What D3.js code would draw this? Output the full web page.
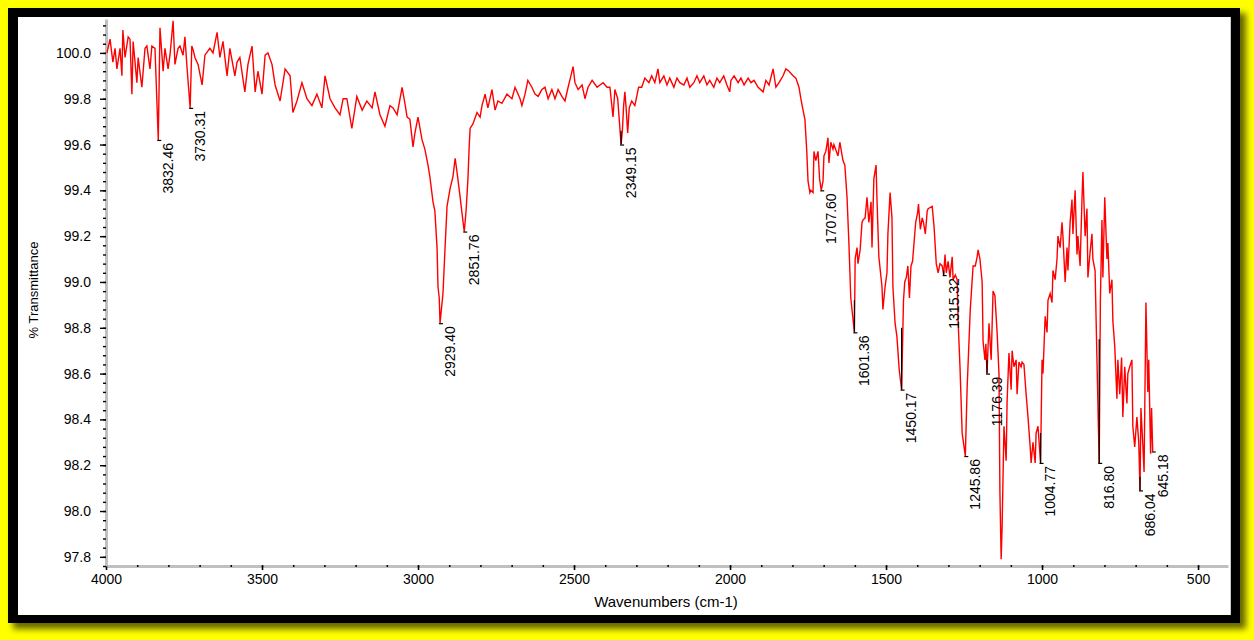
<!DOCTYPE html>
<html>
<head>
<meta charset="utf-8">
<script src="https://cdn.jsdelivr.net/npm/d3@7"></script>
<style>
  html, body { margin: 0; padding: 0; background: #ffff00; }
  svg { display: block; font-family: "Liberation Sans", Arial, sans-serif; }
</style>
</head>
<body>
<svg id="chart" width="1254" height="640"></svg>
<script>
// spectrum (cm-1, %T)
var wavenumbers = [
  3997, 3987, 3978, 3971, 3965, 3955, 3949, 3946, 3939, 3929, 3923, 3917, 3913, 3901, 3897, 3885,
  3875, 3869, 3859, 3853, 3843, 3832.46, 3827, 3817, 3811, 3801, 3795, 3785, 3779, 3769, 3763, 3753,
  3747, 3740, 3730.31, 3725, 3720, 3715, 3705, 3692, 3683, 3667, 3657, 3644, 3635, 3625, 3612, 3603,
  3587, 3580, 3571, 3555, 3545, 3532, 3522, 3513, 3500, 3490, 3481, 3468, 3458, 3442, 3426, 3410,
  3401, 3388, 3372, 3356, 3340, 3324, 3308, 3298, 3282, 3266, 3250, 3240, 3228, 3212, 3196, 3179,
  3164, 3147, 3138, 3122, 3106, 3090, 3080, 3067, 3051, 3042, 3035, 3026, 3016, 3010, 3000, 2987,
  2978, 2968, 2962, 2952, 2946, 2939, 2936, 2932, 2929.40, 2920, 2914, 2907, 2897, 2888, 2881, 2875,
  2865, 2859, 2851.76, 2846, 2840, 2836, 2833, 2824, 2811, 2801, 2795, 2785, 2776, 2763, 2753, 2744,
  2731, 2715, 2699, 2689, 2673, 2667, 2657, 2648, 2635, 2625, 2615, 2603, 2593, 2583, 2571, 2561,
  2551, 2539, 2529, 2519, 2510, 2503, 2497, 2487, 2474, 2465, 2455, 2442, 2426, 2417, 2407, 2394,
  2385, 2375, 2369, 2360, 2349.15, 2345, 2341, 2337, 2333, 2328, 2323, 2315, 2305, 2293, 2283, 2273,
  2260, 2251, 2241, 2231, 2225, 2212, 2202, 2193, 2180, 2170, 2161, 2148, 2138, 2129, 2116, 2106,
  2097, 2084, 2074, 2065, 2052, 2042, 2033, 2020, 2010, 2001, 1997, 1987, 1974, 1965, 1955, 1942,
  1933, 1923, 1910, 1894, 1885, 1875, 1862, 1853, 1843, 1830, 1821, 1811, 1798, 1789, 1779, 1773,
  1766, 1760, 1754, 1750, 1744, 1741, 1734, 1731, 1725, 1718, 1713, 1707.60, 1702, 1699, 1693, 1686,
  1683, 1677, 1670, 1667, 1654, 1648, 1638, 1632, 1625, 1619, 1613, 1606, 1601.36, 1599, 1593, 1590,
  1583, 1577, 1574, 1567, 1561, 1555, 1548, 1545, 1539, 1532, 1529, 1523, 1513, 1510, 1503, 1497,
  1494, 1487, 1481, 1478, 1471, 1465, 1458, 1450.17, 1444, 1440, 1435, 1430, 1425, 1420, 1415, 1405,
  1399, 1396, 1390, 1384, 1380, 1374, 1368, 1365, 1352, 1346, 1339, 1333, 1327, 1320, 1315.32, 1311,
  1307, 1301, 1295, 1288, 1285, 1278, 1272, 1269, 1263, 1256, 1251, 1245.86, 1240, 1230, 1221, 1214,
  1208, 1205, 1199, 1192, 1189, 1183, 1180, 1176.39, 1170, 1163, 1157, 1151, 1144, 1138, 1135, 1131,
  1128, 1122, 1115, 1112, 1106, 1099, 1096, 1090, 1083, 1080, 1074, 1067, 1064, 1058, 1051, 1045,
  1038, 1035, 1029, 1022, 1019, 1013, 1004.77, 1000, 997, 990, 984, 981, 974, 968, 965, 958,
  952, 949, 942, 936, 933, 926, 920, 917, 910, 904, 901, 894, 888, 885, 878, 872,
  869, 862, 856, 853, 846, 840, 837, 830, 824, 816.80, 813, 808, 805, 799, 792, 789,
  783, 776, 773, 767, 760, 757, 751, 745, 741, 735, 728, 725, 719, 712, 709, 703,
  696, 690, 686.04, 683, 677, 673, 667, 661, 658, 652, 649, 645.18
];
var transmittance = [
  100.00, 100.06, 99.96, 100.02, 99.93, 100.02, 99.90, 100.10, 99.98, 100.07, 100.06, 99.82, 100.05, 99.87, 99.98, 99.85,
  100.02, 100.03, 99.93, 100.03, 100.02, 99.62, 100.11, 99.92, 100.02, 99.93, 99.99, 100.14, 99.95, 100.02, 100.03, 99.99,
  100.07, 99.93, 99.76, 100.03, 100.01, 99.98, 99.95, 99.86, 99.99, 100.02, 100.00, 100.09, 99.98, 100.05, 99.90, 100.02,
  99.90, 99.96, 99.98, 99.83, 99.95, 100.03, 99.83, 99.92, 99.82, 99.99, 100.00, 99.95, 99.86, 99.79, 99.93, 99.90,
  99.74, 99.79, 99.87, 99.80, 99.77, 99.82, 99.76, 99.90, 99.80, 99.76, 99.73, 99.80, 99.80, 99.67, 99.81, 99.75,
  99.79, 99.76, 99.83, 99.73, 99.68, 99.77, 99.76, 99.73, 99.85, 99.78, 99.72, 99.71, 99.59, 99.65, 99.72, 99.62,
  99.58, 99.51, 99.46, 99.35, 99.31, 99.15, 98.98, 98.93, 98.82, 98.95, 99.13, 99.33, 99.41, 99.46, 99.54, 99.48,
  99.37, 99.30, 99.22, 99.31, 99.45, 99.59, 99.67, 99.69, 99.74, 99.72, 99.77, 99.82, 99.76, 99.84, 99.75, 99.79,
  99.78, 99.82, 99.80, 99.85, 99.80, 99.77, 99.82, 99.88, 99.85, 99.82, 99.81, 99.84, 99.85, 99.80, 99.84, 99.80,
  99.84, 99.81, 99.79, 99.85, 99.90, 99.94, 99.87, 99.84, 99.86, 99.80, 99.85, 99.88, 99.85, 99.86, 99.87, 99.85,
  99.85, 99.72, 99.84, 99.80, 99.60, 99.66, 99.77, 99.83, 99.76, 99.65, 99.76, 99.79, 99.77, 99.85, 99.85, 99.89,
  99.87, 99.90, 99.87, 99.93, 99.87, 99.90, 99.86, 99.89, 99.85, 99.89, 99.87, 99.86, 99.89, 99.85, 99.87, 99.90,
  99.87, 99.90, 99.86, 99.88, 99.85, 99.89, 99.87, 99.90, 99.86, 99.83, 99.88, 99.90, 99.87, 99.89, 99.86, 99.89,
  99.87, 99.88, 99.85, 99.83, 99.88, 99.86, 99.93, 99.85, 99.87, 99.90, 99.93, 99.92, 99.90, 99.89, 99.85, 99.80,
  99.75, 99.71, 99.57, 99.44, 99.39, 99.40, 99.39, 99.57, 99.53, 99.57, 99.45, 99.40, 99.44, 99.55, 99.57, 99.63,
  99.52, 99.61, 99.58, 99.60, 99.55, 99.61, 99.53, 99.51, 99.37, 99.17, 98.93, 98.84, 98.78, 99.10, 99.15, 99.08,
  99.14, 99.26, 99.27, 99.28, 99.37, 99.26, 99.35, 99.15, 99.45, 99.51, 99.36, 99.11, 98.98, 98.88, 98.98, 99.04,
  99.21, 99.39, 99.28, 98.98, 98.82, 98.76, 98.62, 98.53, 98.92, 99.00, 99.02, 99.07, 98.93, 99.07, 99.09, 99.26,
  99.30, 99.34, 99.23, 99.28, 99.26, 99.21, 99.31, 99.32, 99.33, 99.24, 99.08, 99.04, 99.08, 99.07, 99.03, 99.12,
  99.04, 99.09, 99.02, 99.11, 99.01, 99.03, 99.01, 98.83, 98.63, 98.34, 98.29, 98.24, 98.54, 98.88, 99.07, 99.07,
  99.11, 99.14, 99.10, 99.00, 98.74, 98.66, 98.73, 98.60, 98.82, 98.66, 98.96, 98.94, 98.78, 98.60, 98.08, 97.79,
  97.93, 98.37, 98.22, 98.48, 98.69, 98.53, 98.70, 98.63, 98.66, 98.51, 98.65, 98.63, 98.65, 98.64, 98.51, 98.41,
  98.28, 98.21, 98.30, 98.21, 98.34, 98.37, 98.21, 98.66, 98.60, 98.85, 98.78, 98.92, 98.95, 98.91, 99.05, 99.01,
  99.10, 99.20, 99.15, 99.26, 99.20, 99.00, 99.15, 99.05, 99.26, 99.36, 99.21, 99.40, 99.12, 99.20, 99.07, 99.36,
  99.48, 99.20, 99.32, 99.02, 99.13, 99.21, 99.10, 99.05, 98.66, 98.21, 98.92, 99.27, 99.02, 99.37, 99.10, 99.17,
  98.95, 99.01, 98.83, 98.72, 98.49, 98.66, 98.51, 98.67, 98.41, 98.63, 98.47, 98.60, 98.63, 98.66, 98.37, 98.28,
  98.41, 98.30, 98.09, 98.45, 98.29, 98.17, 98.91, 98.52, 98.66, 98.25, 98.45, 98.26
];

// picked peaks
var peakWavenumbers = [3832.46, 3730.31, 2929.40, 2851.76, 2349.15, 1707.60, 1601.36, 1450.17,
                       1315.32, 1245.86, 1176.39, 1004.77, 816.80, 686.04, 645.18];
var peakTransmittance = [99.62, 99.76, 98.82, 99.22, 99.60, 99.40, 98.78, 98.53,
                         99.03, 98.24, 98.60, 98.21, 98.21, 98.09, 98.26];
var peakMarkTop = [99.62, 99.76, 98.82, 99.22, 99.66, 99.40, 98.92, 98.80,
                   99.05, 98.24, 98.66, 98.34, 98.75, 98.15, 98.26];

var xTickValues = [4000, 3500, 3000, 2500, 2000, 1500, 1000, 500];
var yTickValues = [97.8, 98.0, 98.2, 98.4, 98.6, 98.8, 99.0, 99.2, 99.4, 99.6, 99.8, 100.0];

var plot = { left: 106, right: 1228, top: 19, bottom: 566 };

var svg = d3.select('#chart');

/*
 * Black frame with a soft shadow on the yellow page
 */
function drawFrame() {
  svg.append('defs')
    .append('filter')
      .attr('id', 'blur')
      .attr('x', '-5%').attr('y', '-5%')
      .attr('width', '110%').attr('height', '110%')
    .append('feGaussianBlur')
      .attr('stdDeviation', 3);

  svg.append('rect')
    .attr('x', 13).attr('y', 13)
    .attr('width', 1233).attr('height', 616)
    .attr('fill', '#000')
    .attr('opacity', 0.6)
    .attr('filter', 'url(#blur)');

  svg.append('rect')
    .attr('x', 8).attr('y', 8)
    .attr('width', 1232).attr('height', 615)
    .attr('fill', '#000');

  svg.append('rect')
    .attr('x', 18).attr('y', 17)
    .attr('width', 1213).attr('height', 598)
    .attr('fill', '#fff');

  svg.append('line')
    .attr('x1', 1230.5).attr('x2', 1230.5)
    .attr('y1', 17).attr('y2', 615)
    .attr('stroke', '#c8c8c8');
}

function styleAxis(g, tickWidth) {
  g.select('.domain')
    .attr('stroke', '#c0c0c0')
    .attr('stroke-width', 3);
  g.selectAll('.tick line')
    .attr('stroke', '#000')
    .attr('stroke-width', tickWidth);
  g.selectAll('.tick text')
    .attr('fill', '#000')
    .style('font-size', '14px');
}

drawFrame();

var x = d3.scaleLinear().domain([4000, 404]).range([plot.left, plot.right]);
var y = d3.scaleLinear().domain([97.76, 100.148]).range([plot.bottom, plot.top]);

var xMinor = d3.range(4000, 450, -100);
var yMinor = d3.range(0, 60)
  .map(i => +(97.76 + i * 0.04).toFixed(2))
  .filter(v => v <= 100.148);

// x axis
var gx = svg.append('g')
  .attr('transform', `translate(0,${plot.bottom})`)
  .call(d3.axisBottom(x).tickValues(xTickValues).tickFormat(d3.format('d'))
    .tickSize(4).tickSizeOuter(0).tickPadding(4));
styleAxis(gx, 1.6);

svg.append('g')
  .attr('transform', `translate(0,${plot.bottom - 1})`)
  .call(d3.axisBottom(x).tickValues(xMinor).tickFormat('').tickSize(2))
  .call(g => g.select('.domain').remove())
  .selectAll('.tick line').attr('stroke', '#000').attr('stroke-width', 1.5);

// y axis
var gy = svg.append('g')
  .attr('transform', `translate(${plot.left},0)`)
  .call(d3.axisLeft(y).tickValues(yTickValues).tickFormat(d3.format('.1f'))
    .tickSize(6).tickSizeOuter(0).tickPadding(9));
styleAxis(gy, 1.4);

svg.append('g')
  .attr('transform', `translate(${plot.left},0)`)
  .call(d3.axisLeft(y).tickValues(yMinor).tickFormat('').tickSize(3))
  .call(g => g.select('.domain').remove())
  .selectAll('.tick line').attr('stroke', '#000').attr('stroke-width', 1.4);

// axis titles
svg.append('text')
  .attr('x', 666).attr('y', 607)
  .attr('text-anchor', 'middle')
  .style('font-size', '15px')
  .attr('fill', '#000')
  .text('Wavenumbers (cm-1)');

svg.append('text')
  .attr('transform', 'translate(33,290) rotate(-90)')
  .attr('text-anchor', 'middle')
  .attr('dy', '0.35em')
  .style('font-size', '13px')
  .attr('fill', '#000')
  .text('% Transmittance');

// spectrum
svg.append('clipPath').attr('id', 'plotClip')
  .append('rect')
    .attr('x', plot.left).attr('y', plot.top)
    .attr('width', plot.right - plot.left).attr('height', plot.bottom - plot.top);

var line = d3.line()
  .x(d => x(d[0]))
  .y(d => y(d[1]));

svg.append('path')
  .datum(d3.zip(wavenumbers, transmittance))
  .attr('clip-path', 'url(#plotClip)')
  .attr('fill', 'none')
  .attr('stroke', '#ff0000')
  .attr('stroke-width', 1.4)
  .attr('stroke-linejoin', 'miter')
  .attr('d', line);

// peak markers and labels
var peaks = d3.range(peakWavenumbers.length).map(i => ({
  wn: peakWavenumbers[i],
  t: peakTransmittance[i],
  top: peakMarkTop[i]
}));

var marks = svg.append('g').selectAll('g')
  .data(peaks)
  .enter()
  .append('g');

marks.append('line')
  .attr('x1', d => x(d.wn)).attr('x2', d => x(d.wn))
  .attr('y1', d => y(d.t)).attr('y2', d => y(d.top))
  .attr('stroke', '#000')
  .attr('stroke-width', 1.2);

marks.append('line')
  .attr('x1', d => x(d.wn) - 1).attr('x2', d => x(d.wn) + 3)
  .attr('y1', d => y(d.t) + 0.5).attr('y2', d => y(d.t) + 0.5)
  .attr('stroke', '#000')
  .attr('stroke-width', 1.2);

marks.append('text')
  .attr('transform', d => `translate(${x(d.wn) + 10},${y(d.t) + 3}) rotate(-90)`)
  .attr('text-anchor', 'end')
  .attr('dy', '0.35em')
  .style('font-size', '14px')
  .attr('fill', '#000')
  .text(d => d3.format('.2f')(d.wn));
</script>
</body>
</html>
